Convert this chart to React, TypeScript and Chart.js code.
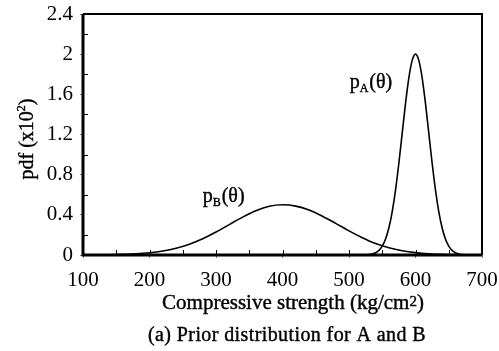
import React, { useEffect, useRef } from 'react';
import { Chart, registerables } from 'chart.js';

Chart.register(...registerables);

// ---- data ----
const xTickValues = [100, 200, 300, 400, 500, 600, 700];
const yTickLabels = ['0', '0.4', '0.8', '1.2', '1.6', '2', '2.4'];
const xMinorTicks = [150, 200, 250, 300, 350, 400, 450, 500, 550, 600, 650];
const yMinorTicks = [0.2, 0.6, 1.0, 1.4, 1.8, 2.2];

const thetaB = [100, 120, 140, 160, 180, 200, 220, 240, 260, 280, 300, 320, 340, 360, 380, 400, 420, 440, 460, 480, 500, 520, 540, 560, 580, 600, 620, 640, 660, 680, 700];
const pB = [0.000, 0.001, 0.003, 0.006, 0.011, 0.022, 0.040, 0.068, 0.108, 0.162, 0.229, 0.303, 0.377, 0.441, 0.485, 0.500, 0.487, 0.447, 0.386, 0.315, 0.240, 0.172, 0.114, 0.072, 0.043, 0.024, 0.012, 0.006, 0.003, 0.001, 0.000];

const thetaA = [525, 530, 535, 540, 545, 550, 555, 560, 565, 570, 575, 580, 585, 590, 595, 600, 605, 610, 615, 620, 625, 630, 635, 640, 645, 650, 655, 660, 665, 670, 675];
const pA = [0.001, 0.004, 0.010, 0.022, 0.046, 0.088, 0.159, 0.271, 0.433, 0.649, 0.916, 1.213, 1.510, 1.765, 1.938, 2.000, 1.938, 1.765, 1.510, 1.213, 0.916, 0.649, 0.433, 0.271, 0.159, 0.088, 0.046, 0.022, 0.010, 0.004, 0.001];

const labelB = { x: 280, y: 0.53 };
const labelA = { x: 501, y: 1.66 };

const SERIF = "'Liberation Serif', 'Times New Roman', serif";

const decorPlugin = {
  id: 'decor',
  afterDatasetsDraw(chart: any) {
    const { ctx, chartArea, scales } = chart;
    const xs = scales.x;
    const ys = scales.y;
    ctx.save();
    ctx.strokeStyle = '#000';
    // inward minor ticks
    ctx.lineWidth = 1;
    xMinorTicks.forEach((v) => {
      const px = Math.round(xs.getPixelForValue(v)) + 0.5;
      ctx.beginPath();
      ctx.moveTo(px, chartArea.bottom);
      ctx.lineTo(px, chartArea.bottom - 5);
      ctx.stroke();
    });
    yMinorTicks.forEach((v) => {
      const py = Math.round(ys.getPixelForValue(v)) + 0.5;
      ctx.beginPath();
      ctx.moveTo(chartArea.left, py);
      ctx.lineTo(chartArea.left + 5, py);
      ctx.stroke();
    });
    // frame
    ctx.lineWidth = 2;
    ctx.beginPath();
    ctx.moveTo(chartArea.left, chartArea.top);
    ctx.lineTo(chartArea.right, chartArea.top);
    ctx.lineTo(chartArea.right, chartArea.bottom);
    ctx.stroke();
    ctx.lineWidth = 3;
    ctx.beginPath();
    ctx.moveTo(chartArea.left, chartArea.top);
    ctx.lineTo(chartArea.left, chartArea.bottom);
    ctx.lineTo(chartArea.right, chartArea.bottom);
    ctx.stroke();

    ctx.fillStyle = '#000';
    ctx.strokeStyle = '#000';
    ctx.lineWidth = 0.4;
    ctx.textBaseline = 'alphabetic';
    ctx.textAlign = 'left';
    const put = (t: string, x: number, y: number) => {
      ctx.fillText(t, x, y);
      ctx.strokeText(t, x, y);
    };
    // curve labels
    const drawLabel = (sub: string, pos: { x: number; y: number }) => {
      let x = xs.getPixelForValue(pos.x);
      const y = ys.getPixelForValue(pos.y);
      ctx.font = `20px ${SERIF}`;
      put('p', x, y);
      x += ctx.measureText('p').width;
      ctx.font = `12px ${SERIF}`;
      put(sub, x, y + 4);
      x += ctx.measureText(sub).width + 1;
      ctx.font = `20px ${SERIF}`;
      put('(θ)', x, y);
    };
    drawLabel('B', labelB);
    drawLabel('A', labelA);

    // x axis title
    const t1 = 'Compressive strength (kg/cm';
    ctx.font = `21px ${SERIF}`;
    const w1 = ctx.measureText(t1).width;
    ctx.font = `15px ${SERIF}`;
    const w2 = ctx.measureText('2').width;
    ctx.font = `21px ${SERIF}`;
    const w3 = ctx.measureText(')').width;
    let tx = 293 - (w1 + w2 + w3) / 2;
    const ty = 309;
    put(t1, tx, ty);
    tx += w1;
    ctx.font = `15px ${SERIF}`;
    put('2', tx, ty - 3);
    tx += w2;
    ctx.font = `21px ${SERIF}`;
    put(')', tx, ty);

    // caption
    ctx.textAlign = 'center';
    ctx.font = `20px ${SERIF}`;
    (ctx as any).letterSpacing = '0.4px';
    put('(a) Prior distribution for A and B', 287, 341);
    (ctx as any).letterSpacing = '0px';

    // y axis title
    ctx.save();
    ctx.translate(33, 139);
    ctx.rotate(-Math.PI / 2);
    ctx.textAlign = 'left';
    const s1 = 'pdf (x10';
    ctx.font = `20px ${SERIF}`;
    const a1 = ctx.measureText(s1).width;
    ctx.font = `12px ${SERIF}`;
    const a2 = ctx.measureText('2').width;
    ctx.font = `20px ${SERIF}`;
    const a3 = ctx.measureText(')').width;
    let sx = -(a1 + a2 + a3) / 2;
    put(s1, sx, 0);
    sx += a1;
    ctx.font = `12px ${SERIF}`;
    put('2', sx, -8);
    sx += a2;
    ctx.font = `20px ${SERIF}`;
    put(')', sx, 0);
    ctx.restore();

    ctx.restore();
  },
};

export default function App() {
  const ref = useRef<HTMLCanvasElement>(null);
  useEffect(() => {
    if (!ref.current) return;
    const chart = new Chart(ref.current, {
      type: 'line',
      data: {
        datasets: [
          {
            label: 'pB',
            data: thetaB.map((t, i) => ({ x: t, y: pB[i] })),
            borderColor: '#000',
            borderWidth: 1.6,
            pointRadius: 0,
            cubicInterpolationMode: 'monotone',
            fill: false,
          },
          {
            label: 'pA',
            data: thetaA.map((t, i) => ({ x: t, y: pA[i] })),
            borderColor: '#000',
            borderWidth: 1.6,
            pointRadius: 0,
            cubicInterpolationMode: 'monotone',
            fill: false,
          },
        ],
      },
      options: {
        responsive: false,
        animation: false,
        clip: false as any,
        layout: { padding: { left: 0, right: 17, top: 14, bottom: 0 } },
        plugins: { legend: { display: false }, tooltip: { enabled: false } },
        scales: {
          x: {
            type: 'linear',
            min: 100,
            max: 700,
            afterFit: (s: any) => { s.height = 96; s.paddingLeft = 0; s.paddingRight = 0; },
            afterBuildTicks: (s: any) => { s.ticks = xTickValues.map((v) => ({ value: v })); },
            grid: { drawOnChartArea: false, drawTicks: true, tickLength: 3, color: '#777' },
            border: { display: false },
            ticks: {
              color: '#000',
              padding: 10,
              maxRotation: 0,
              font: { family: SERIF, size: 21 },
              callback: (v: any) => String(v),
            },
          },
          y: {
            type: 'linear',
            min: 0,
            max: 2.4,
            afterFit: (s: any) => { s.width = 83; s.paddingTop = 0; s.paddingBottom = 0; },
            afterBuildTicks: (s: any) => { s.ticks = yTickLabels.map((l) => ({ value: parseFloat(l) })); },
            grid: { drawOnChartArea: false, drawTicks: true, tickLength: 3, color: '#777' },
            border: { display: false },
            ticks: {
              color: '#000',
              padding: 7,
              font: { family: SERIF, size: 21 },
              callback: (v: any, i: number) => yTickLabels[i],
            },
          },
        },
      },
      plugins: [decorPlugin],
    });
    return () => chart.destroy();
  }, []);
  return (
    <div style={{ position: 'fixed', left: 0, top: 0, width: 499, height: 351, background: '#fff' }}>
      <canvas ref={ref} width={499} height={351} style={{ width: 499, height: 351 }} />
    </div>
  );
}
